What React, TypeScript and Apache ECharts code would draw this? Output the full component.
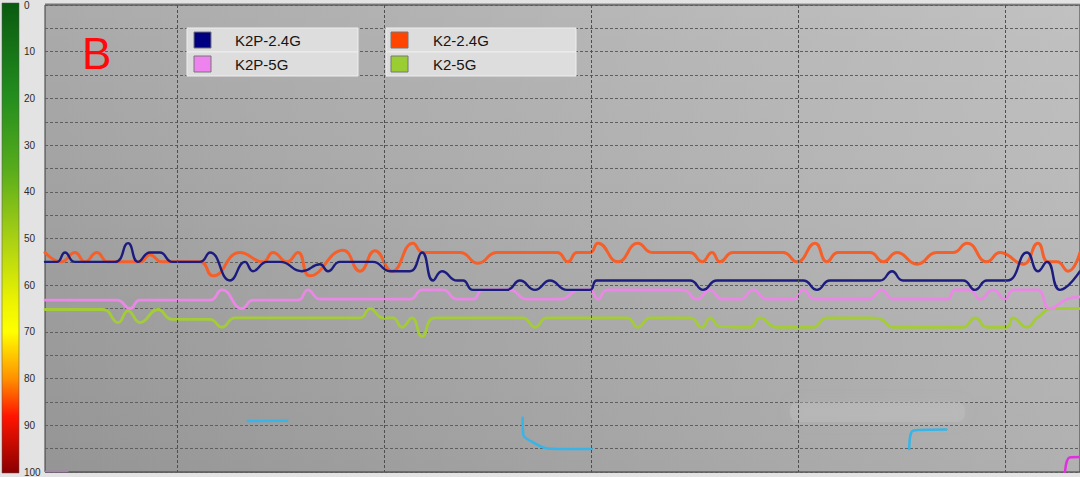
import React, { useEffect, useRef } from "react";
import * as echarts from "echarts";

// ---- data (x = time in seconds, y = signal loss value; 0 top, 100 bottom) ----
const seriesNames = ["K2P-2.4G", "K2P-5G", "K2-2.4G", "K2-5G"];
const lineColors = ["#1c1c7e", "#ea88e6", "#f5602a", "#a3cc38"];
const swatchColors = ["#000080", "#ee82ee", "#ff4500", "#9acd32"];

const k2p24: [number, number][] = [
  [0, 55], [1.16, 55], [1.93, 53], [2.9, 55], [6.76, 55], [8.02, 51], [8.99, 55],
  [10.14, 53], [11.11, 53], [12.3, 55], [14.98, 55], [15.94, 53], [17.87, 59],
  [19.32, 55], [20.1, 57], [21.45, 55], [22.71, 55], [24.83, 57], [26.57, 55.5],
  [27.34, 57], [28.5, 55], [31.69, 55], [33.33, 57], [35.27, 57], [36.43, 53],
  [37.49, 59], [38.36, 57], [39.81, 59], [40.39, 59], [41.35, 61], [44.64, 61],
  [45.89, 59], [47.34, 61], [48.79, 59], [50.43, 61], [52.66, 61], [53.33, 59],
  [62.32, 59], [63.57, 61], [64.93, 59], [73.24, 59], [74.59, 61], [75.85, 59],
  [80.68, 59], [81.84, 57], [82.9, 59], [88.7, 59], [89.86, 61], [91.01, 59],
  [92.95, 59], [94.88, 53], [95.94, 57], [96.81, 55], [98.07, 61], [100, 57],
];

const k2p5: [number, number][] = [
  [0, 63.2], [6.96, 63.2], [8.21, 65], [9.18, 63.2], [15.94, 63.2], [17.1, 61],
  [19.03, 65], [20.1, 63.2], [24.44, 63.2], [25.41, 61], [26.57, 63], [35.27, 63],
  [36.43, 61], [38.45, 61], [39.81, 63], [41.35, 63], [42.32, 61], [44.93, 61],
  [46.57, 63], [49.76, 63], [51.69, 61], [52.66, 61], [53.43, 63], [54.3, 61],
  [61.64, 61], [63.0, 63], [64.25, 61], [65.41, 63], [67.15, 63], [68.41, 61],
  [69.76, 63], [72.27, 63], [73.24, 61], [74.4, 63], [79.52, 63], [80.87, 61],
  [81.93, 63], [87.15, 63], [87.92, 61], [89.37, 61], [90.34, 63], [91.59, 61],
  [92.75, 63], [93.53, 61], [95.85, 61], [97.1, 65], [98.74, 63], [100, 62.5],
];

const k224: [number, number][] = [
  [0, 53], [1.55, 55], [2.9, 53], [3.86, 55], [5.02, 53], [6.09, 55], [9.18, 55],
  [10.14, 53.5], [11.3, 55], [14.98, 55], [16.23, 58], [18.84, 53], [21.06, 55],
  [22.03, 53], [23.38, 55], [24.44, 53], [25.6, 58], [28.79, 52.5], [30.43, 57],
  [31.88, 52.6], [33.53, 57], [35.56, 51], [36.52, 53], [40.1, 53], [41.84, 55.3],
  [43.67, 53], [49.47, 53], [50.53, 55], [51.4, 53], [52.66, 53], [53.43, 51],
  [55.36, 55], [57.29, 51], [58.65, 53], [62.32, 53], [63.48, 55], [64.44, 53],
  [65.22, 55], [66.47, 53], [71.3, 53], [72.66, 55], [74.4, 51], [75.56, 55],
  [76.62, 53], [79.71, 53], [80.97, 55], [82.32, 53], [84.25, 55.5], [86.18, 53],
  [87.73, 53], [89.08, 51], [91.01, 55], [92.27, 53], [94.49, 55.5], [95.94, 51],
  [96.91, 55], [97.78, 55], [98.84, 57], [100, 53],
];

const k25: [number, number][] = [
  [0, 65.2], [5.6, 65.2], [7.05, 68], [8.02, 65.5], [9.18, 68], [10.92, 65.2],
  [12.27, 67.3], [15.94, 67.3], [17.1, 69], [18.36, 67], [30.43, 67], [31.4, 65],
  [32.66, 67], [33.62, 67], [34.49, 69], [35.46, 67], [36.43, 71], [37.68, 67],
  [46.18, 67], [47.34, 69], [48.5, 67], [56.23, 67], [57.29, 69], [58.45, 67],
  [62.32, 67], [63.48, 69], [64.25, 67], [65.22, 68.8], [68.12, 69], [69.08, 67],
  [70.72, 69], [74.2, 69], [75.56, 67], [79.71, 67], [80.68, 67.2], [81.93, 69],
  [88.7, 69], [89.86, 67], [91.01, 69], [92.95, 69], [93.53, 67], [94.88, 69],
  [95.85, 67], [97.39, 65], [100, 65],
];

// leftover fragments of other networks
const cyanA: [number, number][] = [[19.6, 89.1], [23.4, 89.0]];
const cyanB: [number, number][] = [[46.15, 88.4], [46.2, 91.9], [46.86, 93.3], [48.79, 95.0], [52.82, 95.1]];
const cyanC: [number, number][] = [[83.5, 95.1], [83.9, 91.1], [87.1, 90.9]];
const magentaA: [number, number][] = [[98.55, 100], [99.0, 96.9], [100, 96.8]];
const magentaB: [number, number][] = [[0, 99.9], [2.2, 99.9]];

const yTickLabels = [0, 10, 20, 30, 40, 50, 60, 70, 80, 90, 100];
const verticalGridTimes = [12.8, 32.8, 52.8, 72.8, 92.8];

const legendBoxes = [
  { left: 187, width: 171, swatchX: 194, textX: 235, items: [0, 1] },
  { left: 386, width: 190, swatchX: 391, textX: 433, items: [2, 3] },
];

export default function App() {
  const ref = useRef<HTMLDivElement>(null);

  useEffect(() => {
    if (!ref.current) return;
    const chart = echarts.init(ref.current, null, { renderer: "svg" });

    const plot = { x: 45, y: 3, w: 1035, h: 470 };

    const legendGraphics: any[] = [];
    legendBoxes.forEach((box) => {
      box.items.forEach((idx, row) => {
        const top = 28 + row * 24;
        legendGraphics.push({
          type: "rect",
          shape: { x: box.left, y: top, width: box.width, height: 24 },
          style: { fill: "#dddddd", stroke: "#eeeeee", lineWidth: 1 },
          z: 20,
        });
        legendGraphics.push({
          type: "rect",
          shape: { x: box.swatchX, y: top + 4, width: 17, height: 16 },
          style: { fill: swatchColors[idx], stroke: "#777777", lineWidth: 1 },
          z: 21,
        });
        legendGraphics.push({
          type: "text",
          x: box.textX,
          y: top + 12.5,
          style: {
            text: seriesNames[idx],
            fill: "#151515",
            font: '15px "Liberation Sans", Arial, sans-serif',
            textVerticalAlign: "middle",
            verticalAlign: "middle",
          },
          z: 21,
        });
      });
    });

    const lineSeries = (name: string, data: [number, number][], color: string, width: number, z = 3, smooth = 0.5) => ({
      type: "line",
      name,
      data,
      smooth,
      symbol: "none",
      showSymbol: false,
      clip: true,
      z,
      lineStyle: { color, width, cap: "round", join: "round" },
      itemStyle: { color },
      emphasis: { disabled: true },
    });

    const option: any = {
      animation: false,
      grid: {
        left: plot.x,
        top: plot.y,
        right: 0,
        bottom: 477 - plot.y - plot.h,
        show: true,
        backgroundColor: "transparent",
        borderColor: "#3a3a3a",
        borderWidth: 1,
      },
      xAxis: {
        type: "value",
        min: 0,
        max: 100,
        show: true,
        axisLine: { show: false },
        axisTick: { show: false },
        axisLabel: { show: false },
        splitLine: { show: false },
      },
      yAxis: {
        type: "value",
        inverse: true,
        min: 0,
        max: 100,
        interval: 5,
        axisLine: { show: false },
        axisTick: { show: false },
        axisLabel: {
          formatter: (v: number) => (yTickLabels.indexOf(v) >= 0 ? String(v) : ""),
          align: "left",
          margin: 21,
          color: "#2a2a2a",
          fontSize: 10,
          fontFamily: '"Liberation Sans", Arial, sans-serif',
        },
        splitLine: { show: true, lineStyle: { color: "#5f5f5f", type: [3, 2], width: 1 } },
      },
      graphic: [
        {
          type: "rect",
          shape: { x: plot.x, y: plot.y, width: plot.w, height: plot.h },
          style: {
            fill: new echarts.graphic.LinearGradient(0, 0, 0, 1, [
              { offset: 0, color: "#ababab" },
              { offset: 1, color: "#959595" },
            ]),
          },
          z: -10,
          silent: true,
        },
        {
          type: "rect",
          shape: { x: plot.x, y: plot.y, width: plot.w, height: plot.h },
          style: {
            fill: new echarts.graphic.LinearGradient(0, 0, 1, 0, [
              { offset: 0, color: "rgba(255,255,255,0)" },
              { offset: 1, color: "rgba(255,255,255,0.26)" },
            ]),
          },
          z: -9,
          silent: true,
        },
        {
          type: "rect",
          shape: { x: 2, y: plot.y, width: 17, height: plot.h },
          style: {
            fill: new echarts.graphic.LinearGradient(0, 0, 0, 1, [
              { offset: 0, color: "#0a5a10" },
              { offset: 0.2, color: "#238e1e" },
              { offset: 0.35, color: "#56ab1c" },
              { offset: 0.5, color: "#a8d014" },
              { offset: 0.64, color: "#eef400" },
              { offset: 0.7, color: "#ffff00" },
              { offset: 0.8, color: "#ff9000" },
              { offset: 0.88, color: "#ff1400" },
              { offset: 1, color: "#8a0000" },
            ]),
            stroke: "#505050",
            lineWidth: 0.5,
          },
          z: 5,
          silent: true,
        },
        {
          type: "rect",
          shape: { x: 790, y: 402, width: 175, height: 20, r: 8 },
          style: {
            fill: "rgba(200,200,200,0.28)",
            shadowBlur: 12,
            shadowColor: "rgba(200,200,200,0.5)",
          },
          z: 4,
          silent: true,
        },
        {
          type: "text",
          x: 82,
          y: 53,
          style: {
            text: "B",
            fill: "#ff0a0a",
            font: '44px "Liberation Sans", Arial, sans-serif',
            textVerticalAlign: "middle",
            verticalAlign: "middle",
          },
          z: 20,
        },
        ...legendGraphics,
      ],
      series: [
        {
          type: "line",
          name: "grid-v",
          data: [],
          z: 1,
          silent: true,
          markLine: {
            silent: true,
            symbol: ["none", "none"],
            label: { show: false },
            lineStyle: { color: "#4e4e4e", type: [3, 2], width: 1 },
            data: verticalGridTimes.map((t) => ({ xAxis: t })),
          },
        },
        lineSeries("cyanA", cyanA, "#38b4e6", 2.5, 3, 0.4),
        lineSeries("cyanB", cyanB, "#38b4e6", 2.5, 3, 0.4),
        lineSeries("cyanC", cyanC, "#38b4e6", 2.5, 3, 0.3),
        lineSeries("magentaA", magentaA, "#e030e0", 2.5, 3, 0.4),
        lineSeries("magentaB", magentaB, "#c070c8", 1.5, 3, 0.4),
        lineSeries(seriesNames[3], k25, lineColors[3], 2.8),
        lineSeries(seriesNames[1], k2p5, lineColors[1], 2.8),
        lineSeries(seriesNames[2], k224, lineColors[2], 3),
        lineSeries(seriesNames[0], k2p24, lineColors[0], 2.4),
      ],
    };

    chart.setOption(option);
    return () => chart.dispose();
  }, []);

  return (
    <div
      ref={ref}
      style={{ position: "fixed", left: 0, top: 0, width: 1080, height: 477, background: "#e3e3e3" }}
    />
  );
}
